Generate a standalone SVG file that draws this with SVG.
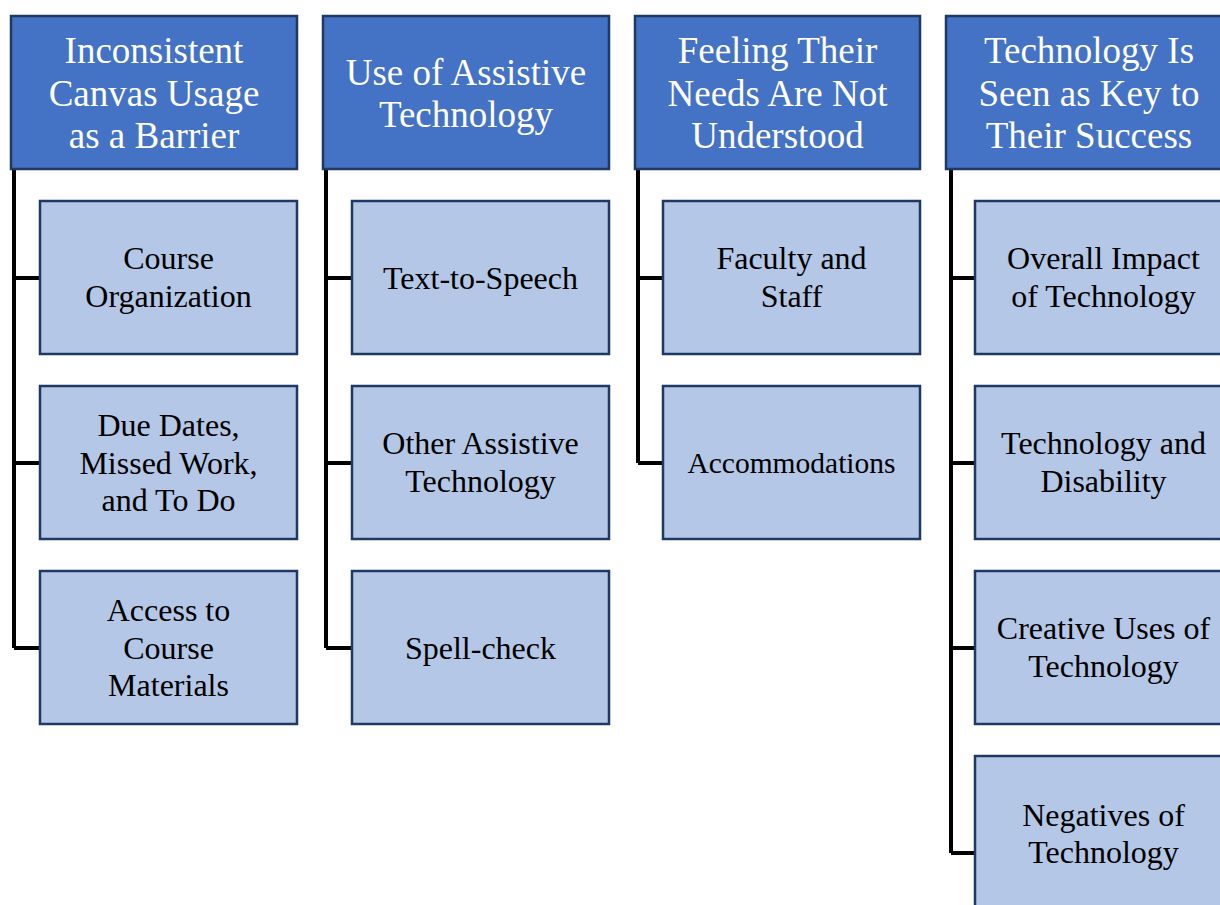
<svg xmlns="http://www.w3.org/2000/svg" width="1220" height="905" viewBox="0 0 1220 905">
  <style>
    .hdr rect { fill: #4472C4; stroke: #1F3864; stroke-width: 2.5; }
    .hdr text { fill: #FFFFFF; font-family: "Liberation Serif", "Times New Roman", serif; font-size: 37px; text-anchor: middle; }
    .sub rect { fill: #B4C7E7; stroke: #1F3864; stroke-width: 2.5; }
    .sub text { fill: #000000; font-family: "Liberation Serif", "Times New Roman", serif; font-size: 32px; text-anchor: middle; }
    .sub text.small { font-size: 29.5px; }
    .conn path { fill: none; stroke: #000000; stroke-width: 4; }
  </style>
  <rect width="1220" height="905" fill="#FFFFFF"/>

  <!-- connectors: one trunk per column with a tick into each child -->
  <g id="connectors" class="conn">
    <path d="M14 169 V648 M14 278 H40 M14 463 H40 M14 648 H40"/>
    <path d="M326 169 V648 M326 278 H352 M326 463 H352 M326 648 H352"/>
    <path d="M638 169 V463 M638 278 H663 M638 463 H663"/>
    <path d="M951 169 V853 M951 278 H975 M951 463 H975 M951 648 H975 M951 853 H975"/>
  </g>

  <!-- column 1 -->
  <g id="h1" class="hdr">
    <rect x="11" y="16" width="286" height="153"/>
    <text x="154" y="63">Inconsistent</text>
    <text x="154" y="106">Canvas Usage</text>
    <text x="154" y="148">as a Barrier</text>
  </g>
  <g id="c1a" class="sub">
    <rect x="40" y="201" width="257" height="153"/>
    <text x="168.5" y="269">Course</text>
    <text x="168.5" y="307">Organization</text>
  </g>
  <g id="c1b" class="sub">
    <rect x="40" y="386" width="257" height="153"/>
    <text x="168.5" y="436">Due Dates,</text>
    <text x="168.5" y="473.5">Missed Work,</text>
    <text x="168.5" y="511">and To Do</text>
  </g>
  <g id="c1c" class="sub">
    <rect x="40" y="571" width="257" height="153"/>
    <text x="168.5" y="621">Access to</text>
    <text x="168.5" y="658.5">Course</text>
    <text x="168.5" y="696">Materials</text>
  </g>

  <!-- column 2 -->
  <g id="h2" class="hdr">
    <rect x="323" y="16" width="286" height="153"/>
    <text x="466" y="84.5">Use of Assistive</text>
    <text x="466" y="127">Technology</text>
  </g>
  <g id="c2a" class="sub">
    <rect x="352" y="201" width="257" height="153"/>
    <text x="480.5" y="289">Text-to-Speech</text>
  </g>
  <g id="c2b" class="sub">
    <rect x="352" y="386" width="257" height="153"/>
    <text x="480.5" y="454">Other Assistive</text>
    <text x="480.5" y="492">Technology</text>
  </g>
  <g id="c2c" class="sub">
    <rect x="352" y="571" width="257" height="153"/>
    <text x="480.5" y="659">Spell-check</text>
  </g>

  <!-- column 3 -->
  <g id="h3" class="hdr">
    <rect x="635" y="16" width="285" height="153"/>
    <text x="777.5" y="63">Feeling Their</text>
    <text x="777.5" y="106">Needs Are Not</text>
    <text x="777.5" y="148">Understood</text>
  </g>
  <g id="c3a" class="sub">
    <rect x="663" y="201" width="257" height="153"/>
    <text x="791.5" y="269">Faculty and</text>
    <text x="791.5" y="307">Staff</text>
  </g>
  <g id="c3b" class="sub">
    <rect x="663" y="386" width="257" height="153"/>
    <text class="small" x="791.5" y="473">Accommodations</text>
  </g>

  <!-- column 4 (runs past the right edge) -->
  <g id="h4" class="hdr">
    <rect x="946" y="16" width="286" height="153"/>
    <text x="1089" y="63">Technology Is</text>
    <text x="1089" y="106">Seen as Key to</text>
    <text x="1089" y="148">Their Success</text>
  </g>
  <g id="c4a" class="sub">
    <rect x="975" y="201" width="257" height="153"/>
    <text x="1103.5" y="269">Overall Impact</text>
    <text x="1103.5" y="307">of Technology</text>
  </g>
  <g id="c4b" class="sub">
    <rect x="975" y="386" width="257" height="153"/>
    <text x="1103.5" y="454">Technology and</text>
    <text x="1103.5" y="492">Disability</text>
  </g>
  <g id="c4c" class="sub">
    <rect x="975" y="571" width="257" height="153"/>
    <text x="1103.5" y="639">Creative Uses of</text>
    <text x="1103.5" y="677">Technology</text>
  </g>
  <g id="c4d" class="sub">
    <rect x="975" y="756" width="257" height="153"/>
    <text x="1103.5" y="826">Negatives of</text>
    <text x="1103.5" y="863">Technology</text>
  </g>
</svg>
